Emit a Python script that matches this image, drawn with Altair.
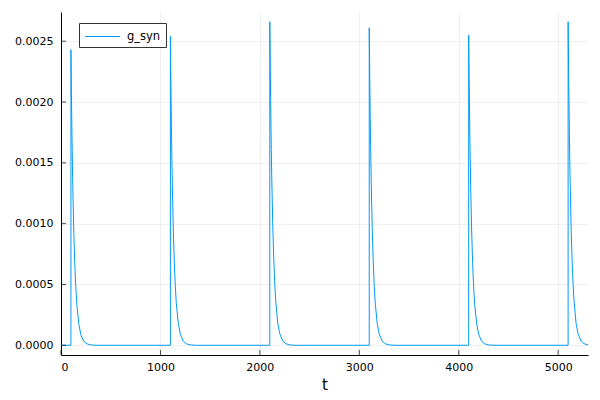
import altair as alt
import pandas as pd

spike_times = [100, 1100, 2100, 3100, 4100, 5100]
offsets = [0, 5, 10, 15, 20, 30, 40, 50, 60, 80, 100, 130, 160, 200, 250]
g_spike1 = [0.00243, 0.00206, 0.00174, 0.00148, 0.00125, 0.00089, 0.00064, 0.00046, 0.00033, 0.00017, 0.000087, 0.000032, 0.000012, 0.000003, 0.0]
g_spike2 = [0.00254, 0.00215, 0.00182, 0.00154, 0.00130, 0.00093, 0.00067, 0.00048, 0.00034, 0.00018, 0.000091, 0.000033, 0.000012, 0.000003, 0.0]
g_spike3 = [0.00266, 0.00225, 0.00191, 0.00161, 0.00136, 0.00098, 0.00070, 0.00050, 0.00036, 0.00018, 0.000096, 0.000035, 0.000013, 0.000003, 0.0]
g_spike4 = [0.00261, 0.00221, 0.00187, 0.00158, 0.00134, 0.00096, 0.00069, 0.00049, 0.00035, 0.00018, 0.000094, 0.000034, 0.000013, 0.000003, 0.0]
g_spike5 = [0.00255, 0.00216, 0.00183, 0.00155, 0.00131, 0.00094, 0.00067, 0.00048, 0.00034, 0.00018, 0.000092, 0.000033, 0.000012, 0.000003, 0.0]
g_spike6 = [0.00266, 0.00225, 0.00191, 0.00161, 0.00136, 0.00098, 0.00070, 0.00050, 0.00036, 0.00018, 0.000096, 0.000035, 0.000013, 0.000003, 0.0]
x_tick_values = [0, 1000, 2000, 3000, 4000, 5000]
y_tick_values = [0.0, 0.0005, 0.0010, 0.0015, 0.0020, 0.0025]
series_name = "g_syn"
line_color = "#009AFA"

W, H = 527, 343

rows = [{"t": 0, "g": 0.0, "i": 0}]
for st, vals in zip(spike_times, [g_spike1, g_spike2, g_spike3, g_spike4, g_spike5, g_spike6]):
    rows.append({"t": st, "g": 0.0, "i": len(rows)})
    for off, v in zip(offsets, vals):
        rows.append({"t": st + off, "g": v, "i": len(rows)})
df = pd.DataFrame(rows)
df["series"] = series_name

xscale = alt.Scale(domain=[0, 5300], nice=False, zero=False)
yscale = alt.Scale(domain=[-0.00008, 0.00274], nice=False, zero=False)

line = alt.Chart(df).mark_line(strokeWidth=1, clip=True).encode(
    x=alt.X("t:Q", scale=xscale, title="t",
            axis=alt.Axis(values=x_tick_values, format="d", grid=True)),
    y=alt.Y("g:Q", scale=yscale, title=None,
            axis=alt.Axis(values=y_tick_values, format=".4f", grid=True)),
    order="i:Q",
    color=alt.Color("series:N", scale=alt.Scale(range=[line_color]),
                    legend=alt.Legend(title=None, orient="none", legendX=18, legendY=11,
                                      symbolType="M-2.19,0H2.19", symbolSize=256,
                                      symbolStrokeWidth=1, symbolOffset=10,
                                      padding=5, strokeColor="#333333", fillColor="white",
                                      cornerRadius=0, labelFontSize=11.5, labelFont="DejaVu Sans",
                                      labelColor="#000000", labelOffset=16)),
)

yt = alt.Chart(pd.DataFrame({"v": y_tick_values})).mark_tick(
    color="black", size=5, thickness=1).encode(
    y=alt.Y("v:Q", scale=yscale), x=alt.value(2.5))
xt = alt.Chart(pd.DataFrame({"v": x_tick_values})).mark_tick(
    color="black", size=5, thickness=1).encode(
    x=alt.X("v:Q", scale=xscale), y=alt.value(H - 2.5))

chart = alt.layer(line, yt, xt).properties(
    width=W, height=H,
    autosize=alt.AutoSizeParams(type="none"),
    padding={"left": 53, "top": 4, "right": 4, "bottom": 42},
).configure_view(stroke=None).configure_axis(
    domainColor="black", domainWidth=1, tickSize=0,
    gridColor="black", gridOpacity=0.06, gridWidth=1,
    labelFont="DejaVu Sans", labelFontSize=11, labelColor="black",
    titleFont="DejaVu Sans", titleFontSize=15, titleFontWeight="normal", titleColor="black",
).configure_axisY(labelPadding=8).configure_axisX(labelPadding=6, titlePadding=5)

chart.save("out.html", embed_options={"renderer": "svg", "actions": False})
